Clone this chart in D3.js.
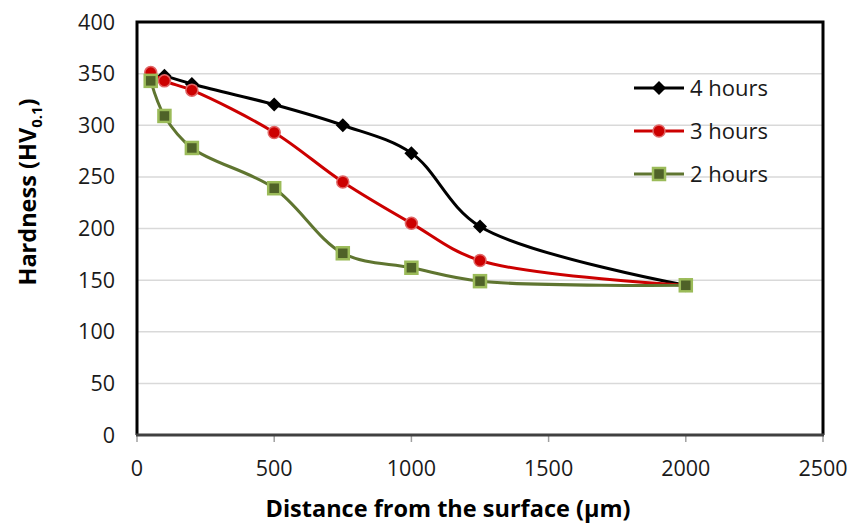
<!DOCTYPE html>
<html lang="en">
  <head>
    <meta charset="utf-8">
    <title>Hardness profile</title>
    <script type="text/javascript" src="https://d3js.org/d3.v7.min.js"></script>
    <style>
      body {
        margin: 0;
        font-family: 'Open Sans', sans-serif;
        background: #ffffff;
      }
      .grid line {
        stroke: #d9d9d9;
        stroke-width: 1.5;
      }
      .tick-label {
        font-size: 21.5px;
        fill: #1a1a1a;
      }
      .axis-title {
        font-size: 23.5px;
        font-weight: bold;
        fill: #000000;
      }
      .legend-label {
        font-size: 22px;
        fill: #1a1a1a;
      }
    </style>
  </head>
  <body>
    <div id="chart"></div>
    <script type="text/javascript">

      // data
      var hours4X = [100, 200, 500, 750, 1000, 1250, 2000];
      var hours4Y = [348, 340, 320, 300, 273, 202, 145];
      var hours3X = [50, 100, 200, 500, 750, 1000, 1250, 2000];
      var hours3Y = [351, 343, 334, 293, 245, 205, 169, 145];
      var hours2X = [50, 100, 200, 500, 750, 1000, 1250, 2000];
      var hours2Y = [343, 309, 278, 239, 176, 162, 149, 145];

      var seriesNames = ['4 hours', '3 hours', '2 hours'];
      var xTicks = [0, 500, 1000, 1500, 2000, 2500];
      var yTicks = [0, 50, 100, 150, 200, 250, 300, 350, 400];

      var w = 851;
      var h = 523;
      var plotLeft = 137, plotRight = 823, plotTop = 22, plotBottom = 435;

      var svg = d3.select('#chart')
        .append('svg')
          .attr('width', w)
          .attr('height', h);

      var x = d3.scaleLinear().domain([0, 2500]).range([plotLeft, plotRight]);
      var y = d3.scaleLinear().domain([0, 400]).range([plotBottom, plotTop]);

      // gridlines
      svg.append('g')
        .attr('class', 'grid')
        .selectAll('line')
        .data(yTicks.slice(1))
        .enter()
        .append('line')
          .attr('x1', plotLeft)
          .attr('x2', plotRight)
          .attr('y1', function(d) { return y(d); })
          .attr('y2', function(d) { return y(d); });

      // x tick marks
      svg.append('g')
        .selectAll('line')
        .data(xTicks)
        .enter()
        .append('line')
          .attr('x1', function(d) { return x(d); })
          .attr('x2', function(d) { return x(d); })
          .attr('y1', plotBottom)
          .attr('y2', plotBottom + 7)
          .attr('stroke', '#a0a0a0')
          .attr('stroke-width', 1.5);

      // plot frame: black left/top/right, dark grey bottom axis
      svg.append('path')
        .attr('d', 'M' + plotLeft + ',' + plotBottom + 'V' + plotTop + 'H' + plotRight + 'V' + plotBottom)
        .attr('fill', 'none')
        .attr('stroke', '#000000')
        .attr('stroke-width', 3);
      svg.append('line')
        .attr('x1', plotLeft - 1).attr('x2', plotRight + 1)
        .attr('y1', plotBottom).attr('y2', plotBottom)
        .attr('stroke', '#404040')
        .attr('stroke-width', 3);

      // tick labels
      svg.append('g')
        .selectAll('text')
        .data(yTicks)
        .enter()
        .append('text')
          .attr('class', 'tick-label')
          .attr('x', plotLeft - 22)
          .attr('y', function(d) { return y(d); })
          .attr('dy', '0.35em')
          .attr('text-anchor', 'end')
          .text(function(d) { return d; });

      svg.append('g')
        .selectAll('text')
        .data(xTicks)
        .enter()
        .append('text')
          .attr('class', 'tick-label')
          .attr('x', function(d) { return x(d); })
          .attr('y', plotBottom + 33)
          .attr('dy', '0.35em')
          .attr('text-anchor', 'middle')
          .text(function(d) { return d; });

      // axis titles
      svg.append('text')
        .attr('class', 'axis-title')
        .attr('x', 448)
        .attr('y', 509)
        .attr('dy', '0.35em')
        .attr('text-anchor', 'middle')
        .text('Distance from the surface (\u00b5m)');

      var yTitle = svg.append('text')
        .attr('class', 'axis-title')
        .attr('transform', 'translate(28,' + 192 + ') rotate(-90)')
        .attr('dy', '0.35em')
        .attr('text-anchor', 'middle');
      yTitle.append('tspan').text('Hardness (HV');
      yTitle.append('tspan').attr('font-size', '15px').attr('dy', '6').text('0.1');
      yTitle.append('tspan').attr('dy', '-6').text(')');

      var line = d3.line()
        .x(function(d) { return x(d[0]); })
        .y(function(d) { return y(d[1]); })
        .curve(d3.curveCatmullRom.alpha(0.5));

      var series = [
        { name: seriesNames[0], pts: d3.zip(hours4X, hours4Y), stroke: '#000000', marker: 'diamond' },
        { name: seriesNames[1], pts: d3.zip(hours3X, hours3Y), stroke: '#cc0000', marker: 'circle' },
        { name: seriesNames[2], pts: d3.zip(hours2X, hours2Y), stroke: '#5f7530', marker: 'square' }
      ];

      function drawMarker(g, type, cx, cy) {
        if (type == 'diamond') {
          g.append('path')
            .attr('d', 'M' + cx + ',' + (cy - 7) + 'L' + (cx + 7) + ',' + cy + 'L' + cx + ',' + (cy + 7) + 'L' + (cx - 7) + ',' + cy + 'Z')
            .attr('fill', '#000000');
        } else if (type == 'circle') {
          g.append('circle')
            .attr('cx', cx).attr('cy', cy).attr('r', 6)
            .attr('fill', '#cc0000')
            .attr('stroke', '#e06666')
            .attr('stroke-width', 1.5);
        } else {
          g.append('rect')
            .attr('x', cx - 6).attr('y', cy - 6)
            .attr('width', 12).attr('height', 12)
            .attr('fill', '#4f6228')
            .attr('stroke', '#9bbb59')
            .attr('stroke-width', 2.5);
        }
      }

      // 4 hours drawn first, 2 hours ends up on top
      series.forEach(function(s) {
        var g = svg.append('g');
        g.append('path')
          .attr('d', line(s.pts))
          .attr('fill', 'none')
          .attr('stroke', s.stroke)
          .attr('stroke-width', 3);
        s.pts.forEach(function(p) {
          drawMarker(g, s.marker, x(p[0]), y(p[1]));
        });
      });

      // legend
      series.forEach(function(s, i) {
        var ly = 88 + i * 43;
        var g = svg.append('g');
        g.append('line')
          .attr('x1', 634).attr('x2', 684)
          .attr('y1', ly).attr('y2', ly)
          .attr('stroke', s.stroke)
          .attr('stroke-width', 3);
        drawMarker(g, s.marker, 659, ly);
        g.append('text')
          .attr('class', 'legend-label')
          .attr('x', 690)
          .attr('y', ly)
          .attr('dy', '0.35em')
          .text(s.name);
      });

    </script>
  </body>
</html>
